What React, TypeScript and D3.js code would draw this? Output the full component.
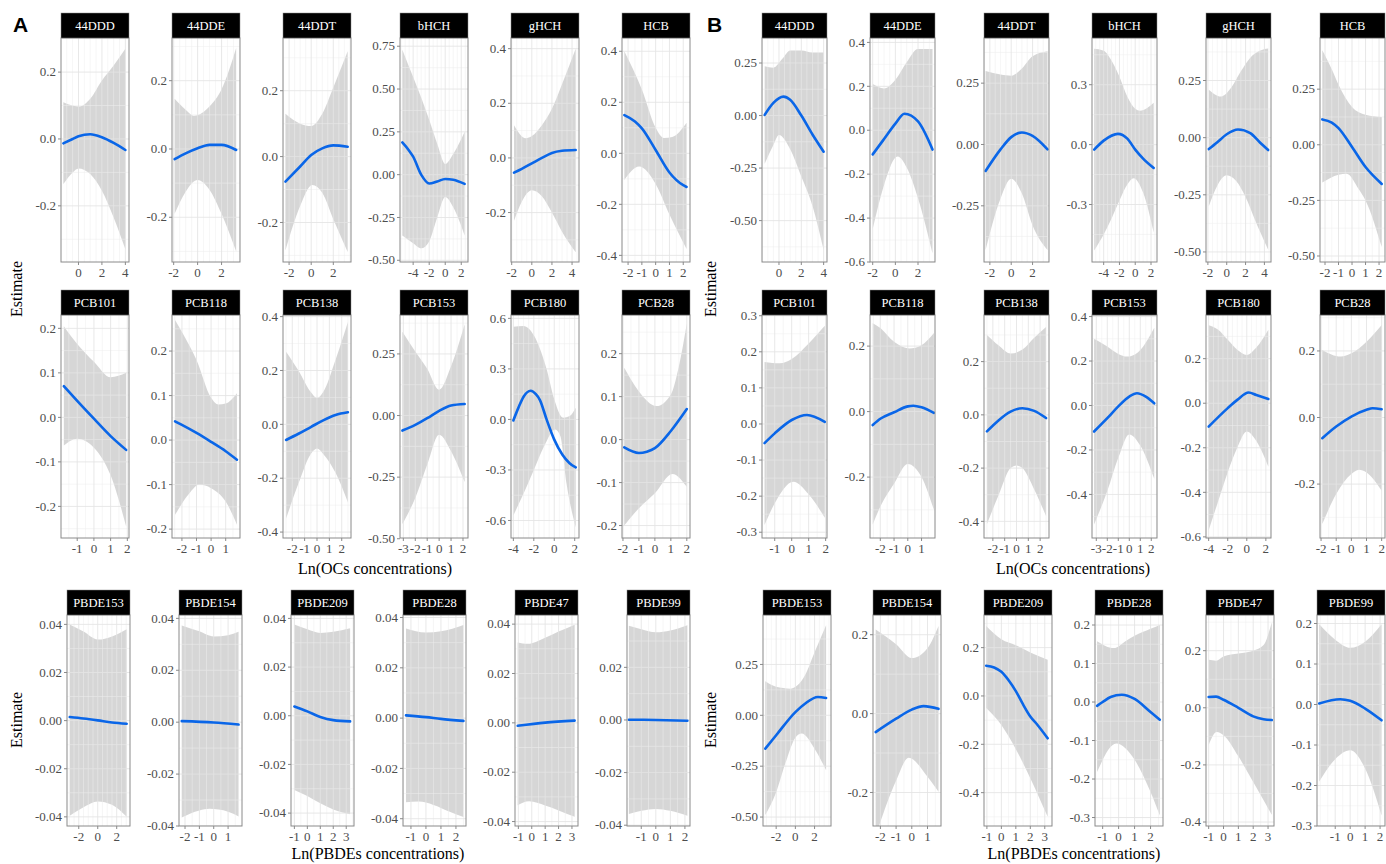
import React from "react";
import * as d3 from "d3";

type P = [number, number];
interface Panel {
  name: string;
  xDom: number[];
  xTicks: number[];
  yDom: number[];
  yTicks: number[];
  fit: P[];
  hi: P[];
  lo: P[];
}

// ---------------- Block A, row 1 (OCs) ----------------
const A_44DDD: Panel = {
  name: "44DDD", xDom: [-1.49, 4.31], xTicks: [0, 2, 4], yDom: [-0.368, 0.302], yTicks: [-0.2, 0, 0.2],
  fit: [[-1.29, -0.013], [-0.5, 0.0], [0, 0.008], [1, 0.014], [2, 0.005], [3, -0.012], [4, -0.033]],
  hi: [[-1.29, 0.11], [-0.5, 0.1], [0.1, 0.097], [1, 0.12], [2, 0.175], [3, 0.22], [4, 0.27]],
  lo: [[-1.29, -0.135], [-0.5, -0.1], [0, -0.088], [1, -0.105], [2, -0.155], [3, -0.235], [4, -0.33]],
};
const A_44DDE: Panel = {
  name: "44DDE", xDom: [-2.14, 3.54], xTicks: [-2, 0, 2], yDom: [-0.331, 0.325], yTicks: [-0.2, 0, 0.2],
  fit: [[-1.92, -0.03], [-1, -0.013], [0, 0.002], [1, 0.012], [2, 0.012], [3.22, -0.003]],
  hi: [[-1.92, 0.147], [-1, 0.115], [-0.28, 0.097], [1, 0.125], [2, 0.175], [3.22, 0.296]],
  lo: [[-1.92, -0.19], [-1, -0.125], [0, -0.091], [1, -0.12], [2, -0.19], [3.22, -0.3]],
};
const A_44DDT: Panel = {
  name: "44DDT", xDom: [-2.55, 3.6], xTicks: [-2, 0, 2], yDom: [-0.32, 0.36], yTicks: [-0.2, 0, 0.2],
  fit: [[-2.33, -0.076], [-1, -0.03], [0, 0.005], [1, 0.025], [2, 0.034], [3.3, 0.03]],
  hi: [[-2.33, 0.13], [-1, 0.1], [0, 0.093], [1, 0.13], [2, 0.21], [3.3, 0.32]],
  lo: [[-2.33, -0.285], [-1, -0.15], [0.1, -0.086], [1, -0.11], [2, -0.19], [3.3, -0.29]],
};
const A_bHCH: Panel = {
  name: "bHCH", xDom: [-5.64, 2.84], xTicks: [-4, -2, 0, 2], yDom: [-0.51, 0.798], yTicks: [-0.5, -0.25, 0, 0.25, 0.5, 0.75],
  fit: [[-5.35, 0.188], [-4.5, 0.14], [-4, 0.105], [-3, 0.0], [-2, -0.052], [-1, -0.04], [0, -0.025], [1, -0.03], [2.42, -0.054]],
  hi: [[-5.35, 0.73], [-4, 0.57], [-3, 0.45], [-2, 0.32], [-1, 0.18], [0, 0.062], [1, 0.12], [2.42, 0.25]],
  lo: [[-5.35, -0.355], [-4, -0.4], [-3, -0.43], [-2, -0.39], [-1, -0.25], [0, -0.13], [1, -0.19], [2.42, -0.355]],
};
const A_gHCH: Panel = {
  name: "gHCH", xDom: [-2.07, 4.69], xTicks: [-2, 0, 2, 4], yDom: [-0.381, 0.439], yTicks: [-0.2, 0, 0.2, 0.4],
  fit: [[-1.77, -0.054], [-1, -0.04], [0, -0.02], [1, 0.0], [2, 0.018], [3, 0.026], [4.36, 0.029]],
  hi: [[-1.77, 0.12], [-0.6, 0.072], [0, 0.08], [1, 0.12], [2, 0.18], [3, 0.27], [4.36, 0.4]],
  lo: [[-1.77, -0.23], [-1, -0.16], [0, -0.118], [1, -0.14], [2, -0.2], [3, -0.27], [4.36, -0.345]],
};
const A_HCB: Panel = {
  name: "HCB", xDom: [-2.44, 2.49], xTicks: [-2, -1, 0, 1, 2], yDom: [-0.426, 0.452], yTicks: [-0.4, -0.2, 0, 0.2, 0.4],
  fit: [[-2.27, 0.15], [-1.5, 0.125], [-1, 0.098], [0, 0.013], [1, -0.075], [2, -0.125], [2.24, -0.132]],
  hi: [[-2.27, 0.4], [-1, 0.25], [0, 0.1], [0.6, 0.06], [1.2, 0.064], [2.24, 0.12]],
  lo: [[-2.27, -0.105], [-1.2, -0.052], [0, -0.12], [1, -0.24], [2.24, -0.375]],
};

// ---------------- Block B, row 1 (OCs) ----------------
const B_44DDD: Panel = {
  name: "44DDD", xDom: [-1.52, 4.3], xTicks: [0, 2, 4], yDom: [-0.697, 0.369], yTicks: [-0.5, -0.25, 0, 0.25],
  fit: [[-1.28, 0.003], [-0.5, 0.06], [0.4, 0.09], [1, 0.075], [2, 0.0], [3, -0.09], [4, -0.172]],
  hi: [[-1.28, 0.235], [-0.5, 0.228], [0.3, 0.27], [1, 0.31], [2, 0.31], [3, 0.3], [4, 0.3]],
  lo: [[-1.28, -0.23], [-0.5, -0.14], [0, -0.093], [1, -0.16], [2, -0.29], [3, -0.43], [4, -0.64]],
};
const B_44DDE: Panel = {
  name: "44DDE", xDom: [-2.24, 3.5], xTicks: [-2, 0, 2], yDom: [-0.6, 0.42], yTicks: [-0.6, -0.4, -0.2, 0, 0.2, 0.4],
  fit: [[-2, -0.11], [-1, -0.04], [0, 0.03], [0.8, 0.075], [2, 0.04], [3.28, -0.088]],
  hi: [[-2, 0.21], [-1, 0.19], [0, 0.23], [1, 0.31], [2, 0.37], [3.28, 0.37]],
  lo: [[-2, -0.45], [-1, -0.25], [0.2, -0.12], [1, -0.17], [2, -0.31], [3.28, -0.56]],
};
const B_44DDT: Panel = {
  name: "44DDT", xDom: [-2.55, 3.54], xTicks: [-2, 0, 2], yDom: [-0.479, 0.434], yTicks: [-0.25, 0, 0.25],
  fit: [[-2.4, -0.108], [-1, -0.02], [0, 0.03], [1, 0.049], [2, 0.035], [3.4, -0.02]],
  hi: [[-2.4, 0.3], [-1, 0.285], [0, 0.28], [1, 0.31], [2, 0.36], [3.4, 0.38]],
  lo: [[-2.4, -0.43], [-1, -0.22], [0, -0.14], [1, -0.2], [2, -0.33], [3.4, -0.43]],
};
const B_bHCH: Panel = {
  name: "bHCH", xDom: [-5.48, 2.76], xTicks: [-4, -2, 0, 2], yDom: [-0.588, 0.534], yTicks: [-0.3, 0, 0.3],
  fit: [[-5.2, -0.025], [-4, 0.02], [-2.2, 0.054], [-1, 0.03], [0, -0.025], [1, -0.07], [2.34, -0.117]],
  hi: [[-5.2, 0.48], [-4, 0.47], [-3, 0.42], [-2, 0.34], [-1, 0.24], [0, 0.18], [0.6, 0.17], [2.34, 0.21]],
  lo: [[-5.2, -0.53], [-4, -0.45], [-3, -0.37], [-2, -0.28], [-1, -0.2], [-0.2, -0.168], [1, -0.24], [2.34, -0.44]],
};
const B_gHCH: Panel = {
  name: "gHCH", xDom: [-2.2, 4.7], xTicks: [-2, 0, 2, 4], yDom: [-0.544, 0.436], yTicks: [-0.5, -0.25, 0, 0.25],
  fit: [[-1.9, -0.05], [-1, -0.02], [0, 0.015], [1.2, 0.036], [2.5, 0.02], [3.5, -0.02], [4.4, -0.054]],
  hi: [[-1.9, 0.21], [-0.6, 0.18], [0.5, 0.22], [1.5, 0.29], [2.5, 0.35], [3.5, 0.38], [4.4, 0.39]],
  lo: [[-1.9, -0.3], [-1, -0.21], [0, -0.165], [1, -0.19], [2, -0.26], [3, -0.36], [4.4, -0.49]],
};
const B_HCB: Panel = {
  name: "HCB", xDom: [-2.37, 2.44], xTicks: [-2, -1, 0, 1, 2], yDom: [-0.527, 0.48], yTicks: [-0.5, -0.25, 0, 0.25],
  fit: [[-2.2, 0.114], [-1.5, 0.1], [-1, 0.075], [0, -0.01], [1, -0.1], [2.2, -0.176]],
  hi: [[-2.2, 0.425], [-1.5, 0.34], [-1, 0.27], [0, 0.17], [1, 0.135], [2.2, 0.125]],
  lo: [[-2.2, -0.17], [-1, -0.135], [-0.4, -0.13], [0.5, -0.2], [1, -0.25], [2.2, -0.46]],
};

// ---------------- Block A, row 2 (PCBs) ----------------
const A_PCB101: Panel = {
  name: "PCB101", xDom: [-1.97, 2.1], xTicks: [-1, 0, 1, 2], yDom: [-0.271, 0.23], yTicks: [-0.2, -0.1, 0, 0.1, 0.2],
  fit: [[-1.8, 0.07], [-1, 0.037], [0, -0.003], [1, -0.042], [1.93, -0.073]],
  hi: [[-1.8, 0.205], [-1, 0.165], [0, 0.125], [1, 0.09], [1.93, 0.1]],
  lo: [[-1.8, -0.063], [-1, -0.048], [0, -0.068], [1, -0.13], [1.93, -0.245]],
};
const A_PCB118: Panel = {
  name: "PCB118", xDom: [-2.68, 1.98], xTicks: [-2, -1, 0, 1], yDom: [-0.22, 0.281], yTicks: [-0.2, -0.1, 0, 0.1, 0.2],
  fit: [[-2.47, 0.042], [-2, 0.034], [-1, 0.016], [0, -0.004], [1, -0.025], [1.77, -0.044]],
  hi: [[-2.47, 0.27], [-2, 0.243], [-1, 0.18], [0, 0.095], [0.5, 0.08], [1, 0.082], [1.77, 0.105]],
  lo: [[-2.47, -0.168], [-1.5, -0.12], [-0.8, -0.1], [0, -0.108], [1, -0.138], [1.77, -0.19]],
};
const A_PCB138: Panel = {
  name: "PCB138", xDom: [-2.75, 2.75], xTicks: [-2, -1, 0, 1, 2], yDom: [-0.422, 0.406], yTicks: [-0.4, -0.2, 0, 0.2, 0.4],
  fit: [[-2.5, -0.058], [-1.5, -0.035], [-0.5, -0.01], [0.5, 0.015], [1.5, 0.035], [2.5, 0.045]],
  hi: [[-2.5, 0.27], [-1.5, 0.2], [-0.5, 0.12], [0, 0.098], [0.5, 0.12], [1.5, 0.24], [2.5, 0.38]],
  lo: [[-2.5, -0.35], [-1.5, -0.22], [-0.5, -0.11], [0, -0.09], [0.5, -0.11], [1.5, -0.18], [2.5, -0.29]],
};
const A_PCB153: Panel = {
  name: "PCB153", xDom: [-3.28, 2.42], xTicks: [-3, -2, -1, 0, 1, 2], yDom: [-0.497, 0.408], yTicks: [-0.5, -0.25, 0, 0.25],
  fit: [[-3.08, -0.061], [-2, -0.038], [-1, -0.011], [0, 0.019], [1, 0.041], [2.14, 0.047]],
  hi: [[-3.08, 0.34], [-2, 0.26], [-1, 0.19], [0, 0.105], [1, 0.2], [2.14, 0.37]],
  lo: [[-3.08, -0.44], [-2, -0.335], [-1, -0.2], [0, -0.078], [1, -0.145], [2.14, -0.27]],
};
const A_PCB180: Panel = {
  name: "PCB180", xDom: [-4.23, 2.42], xTicks: [-4, -2, 0, 2], yDom: [-0.704, 0.62], yTicks: [-0.6, -0.3, 0, 0.3, 0.6],
  fit: [[-4, -0.006], [-3.5, 0.07], [-3, 0.135], [-2.3, 0.17], [-1.8, 0.15], [-1.4, 0.115], [-0.75, 0.0], [0, -0.12], [0.8, -0.21], [1.5, -0.26], [2.1, -0.285]],
  hi: [[-4, 0.55], [-3, 0.555], [-2, 0.5], [-1.4, 0.42], [-0.75, 0.3], [0, 0.12], [0.87, 0.01], [1.5, 0.02], [2.1, 0.07]],
  lo: [[-4, -0.57], [-3, -0.44], [-2, -0.3], [-1, -0.16], [0.1, -0.06], [0.6, -0.1], [1.2, -0.38], [2.1, -0.64]],
};
const A_PCB28: Panel = {
  name: "PCB28", xDom: [-2.06, 2.2], xTicks: [-2, -1, 0, 1, 2], yDom: [-0.229, 0.29], yTicks: [-0.2, -0.1, 0, 0.1, 0.2],
  fit: [[-1.92, -0.018], [-1, -0.031], [-0.5, -0.028], [0, -0.02], [1, 0.02], [2, 0.071]],
  hi: [[-1.92, 0.167], [-1, 0.112], [0.1, 0.078], [1, 0.105], [1.5, 0.17], [2, 0.27]],
  lo: [[-1.92, -0.2], [-1, -0.16], [0, -0.125], [1.1, -0.08], [2, -0.11]],
};

// ---------------- Block B, row 2 (PCBs) ----------------
const B_PCB101: Panel = {
  name: "PCB101", xDom: [-1.75, 2.08], xTicks: [-1, 0, 1, 2], yDom: [-0.316, 0.302], yTicks: [-0.3, -0.2, -0.1, 0, 0.1, 0.2, 0.3],
  fit: [[-1.6, -0.053], [-1, -0.026], [0, 0.011], [0.9, 0.025], [1.95, 0.006]],
  hi: [[-1.6, 0.172], [-0.7, 0.168], [0, 0.18], [1, 0.223], [1.95, 0.272]],
  lo: [[-1.6, -0.28], [-1, -0.22], [0.1, -0.16], [1, -0.195], [1.95, -0.26]],
};
const B_PCB118: Panel = {
  name: "PCB118", xDom: [-2.75, 1.98], xTicks: [-2, -1, 0, 1], yDom: [-0.386, 0.295], yTicks: [-0.2, 0, 0.2],
  fit: [[-2.55, -0.041], [-2, -0.022], [-1, -0.002], [0, 0.016], [0.4, 0.018], [1, 0.013], [1.9, -0.004]],
  hi: [[-2.55, 0.27], [-2, 0.255], [-1, 0.213], [0.1, 0.193], [1, 0.203], [1.9, 0.24]],
  lo: [[-2.55, -0.345], [-2, -0.29], [-1, -0.22], [0, -0.16], [1, -0.2], [1.9, -0.3]],
};
const B_PCB138: Panel = {
  name: "PCB138", xDom: [-2.75, 2.75], xTicks: [-2, -1, 0, 1, 2], yDom: [-0.4625, 0.375], yTicks: [-0.4, -0.2, 0, 0.2],
  fit: [[-2.5, -0.062], [-1.5, -0.02], [-0.5, 0.012], [0.5, 0.025], [1.5, 0.015], [2.5, -0.012]],
  hi: [[-2.5, 0.3], [-1.5, 0.26], [-0.5, 0.23], [0.5, 0.245], [1.5, 0.29], [2.5, 0.33]],
  lo: [[-2.5, -0.41], [-1.5, -0.3], [-0.5, -0.2], [0, -0.19], [0.5, -0.2], [1.5, -0.28], [2.5, -0.38]],
};
const B_PCB153: Panel = {
  name: "PCB153", xDom: [-3.39, 2.52], xTicks: [-3, -2, -1, 0, 1, 2], yDom: [-0.596, 0.407], yTicks: [-0.4, -0.2, 0, 0.2, 0.4],
  fit: [[-3.2, -0.117], [-2, -0.057], [-1, -0.004], [0, 0.04], [0.7, 0.055], [1.5, 0.04], [2.27, 0.01]],
  hi: [[-3.2, 0.3], [-2, 0.265], [-1, 0.232], [-0.2, 0.22], [0.8, 0.24], [2.27, 0.35]],
  lo: [[-3.2, -0.535], [-2, -0.385], [-1, -0.235], [0, -0.13], [1, -0.18], [2.27, -0.33]],
};
const B_PCB180: Panel = {
  name: "PCB180", xDom: [-4.28, 2.54], xTicks: [-4, -2, 0, 2], yDom: [-0.605, 0.396], yTicks: [-0.6, -0.4, -0.2, 0, 0.2],
  fit: [[-4, -0.105], [-2, -0.022], [-1, 0.015], [0.2, 0.048], [1, 0.037], [2.26, 0.019]],
  hi: [[-4, 0.35], [-3, 0.33], [-2, 0.285], [-1, 0.24], [0, 0.217], [1, 0.25], [2.26, 0.33]],
  lo: [[-4, -0.57], [-3, -0.44], [-2, -0.31], [-1, -0.2], [0, -0.127], [1, -0.17], [2.26, -0.285]],
};
const B_PCB28: Panel = {
  name: "PCB28", xDom: [-2.07, 2.22], xTicks: [-2, -1, 0, 1, 2], yDom: [-0.362, 0.308], yTicks: [-0.2, 0, 0.2],
  fit: [[-1.92, -0.062], [-1, -0.027], [0, 0.003], [1, 0.023], [1.4, 0.028], [2, 0.025]],
  hi: [[-1.92, 0.203], [-0.7, 0.183], [0, 0.193], [1, 0.228], [2, 0.278]],
  lo: [[-1.92, -0.32], [-1, -0.23], [0, -0.17], [0.5, -0.157], [1, -0.165], [2, -0.22]],
};

// ---------------- Block A, row 3 (PBDEs) ----------------
const A_PBDE153: Panel = {
  name: "PBDE153", xDom: [-3.24, 3.4], xTicks: [-2, 0, 2], yDom: [-0.0438, 0.0439], yTicks: [-0.04, -0.02, 0, 0.02, 0.04],
  fit: [[-2.95, 0.0015], [-1.5, 0.0009], [0, 0.0001], [1.5, -0.0008], [3.05, -0.0013]],
  hi: [[-2.95, 0.04], [-1.5, 0.037], [0, 0.0337], [1.5, 0.035], [3.05, 0.038]],
  lo: [[-2.95, -0.0395], [-1.5, -0.036], [0, -0.0336], [1.5, -0.035], [3.05, -0.04]],
};
const A_PBDE154: Panel = {
  name: "PBDE154", xDom: [-2.42, 1.97], xTicks: [-2, -1, 0, 1], yDom: [-0.04, 0.0413], yTicks: [-0.04, -0.02, 0, 0.02, 0.04],
  fit: [[-2.23, 0.0004], [0, -0.0001], [1.73, -0.0009]],
  hi: [[-2.23, 0.0373], [-1, 0.035], [0, 0.033], [1, 0.0335], [1.73, 0.0348]],
  lo: [[-2.23, -0.0367], [-1, -0.034], [-0.3, -0.0334], [1, -0.0345], [1.73, -0.0363]],
};
const A_PBDE209: Panel = {
  name: "PBDE209", xDom: [-1.26, 3.6], xTicks: [-1, 0, 1, 2, 3], yDom: [-0.0453, 0.0414], yTicks: [-0.04, -0.02, 0, 0.02, 0.04],
  fit: [[-1, 0.0038], [0, 0.0018], [1, -0.0005], [2, -0.0018], [3.3, -0.0023]],
  hi: [[-1, 0.0375], [0, 0.0355], [1, 0.034], [2, 0.0345], [3.3, 0.036]],
  lo: [[-1, -0.0305], [0, -0.033], [1, -0.036], [2, -0.0385], [3.3, -0.0405]],
};
const A_PBDE28: Panel = {
  name: "PBDE28", xDom: [-1.53, 2.67], xTicks: [-1, 0, 1, 2], yDom: [-0.0429, 0.041], yTicks: [-0.04, -0.02, 0, 0.02, 0.04],
  fit: [[-1.33, 0.0011], [0, 0.0004], [1, -0.0003], [2.5, -0.0011]],
  hi: [[-1.33, 0.0356], [0, 0.034], [1, 0.0345], [2.5, 0.037]],
  lo: [[-1.33, -0.0335], [-0.5, -0.0332], [0.5, -0.0345], [1.5, -0.037], [2.5, -0.0393]],
};
const A_PBDE47: Panel = {
  name: "PBDE47", xDom: [-1.25, 3.45], xTicks: [-1, 0, 1, 2, 3], yDom: [-0.0418, 0.0437], yTicks: [-0.04, -0.02, 0, 0.02, 0.04],
  fit: [[-1.05, -0.0012], [1, 0.0001], [3.2, 0.0009]],
  hi: [[-1.05, 0.0326], [-0.3, 0.032], [1, 0.0345], [2, 0.037], [3.2, 0.0398]],
  lo: [[-1.05, -0.0334], [-0.2, -0.0318], [1, -0.0335], [2, -0.0355], [3.2, -0.0381]],
};
const A_PBDE99: Panel = {
  name: "PBDE99", xDom: [-1.98, 2.35], xTicks: [-1, 0, 1, 2], yDom: [-0.0403, 0.0399], yTicks: [-0.04, -0.02, 0, 0.02],
  fit: [[-1.85, 0.0001], [0, 0.0], [2.17, -0.0003]],
  hi: [[-1.85, 0.0358], [-1, 0.0345], [0, 0.0333], [1, 0.034], [2.17, 0.036]],
  lo: [[-1.85, -0.0357], [-1, -0.0345], [0, -0.0338], [1, -0.0345], [2.17, -0.0364]],
};

// ---------------- Block B, row 3 (PBDEs) ----------------
const B_PBDE153: Panel = {
  name: "PBDE153", xDom: [-3.37, 3.71], xTicks: [-2, 0, 2], yDom: [-0.544, 0.493], yTicks: [-0.5, -0.25, 0, 0.25],
  fit: [[-3.13, -0.164], [-2, -0.098], [0, 0.016], [1, 0.057], [2.35, 0.09], [3.2, 0.085]],
  hi: [[-3.13, 0.167], [-2, 0.14], [-0.55, 0.131], [1, 0.197], [2, 0.31], [3.2, 0.443]],
  lo: [[-3.13, -0.49], [-2, -0.378], [-1, -0.23], [0, -0.11], [0.65, -0.09], [2, -0.164], [3.2, -0.27]],
};
const B_PBDE154: Panel = {
  name: "PBDE154", xDom: [-2.47, 1.86], xTicks: [-2, -1, 0, 1], yDom: [-0.285, 0.25], yTicks: [-0.2, 0, 0.2],
  fit: [[-2.3, -0.047], [-1, -0.013], [0, 0.01], [0.75, 0.019], [1.7, 0.012]],
  hi: [[-2.3, 0.213], [-1, 0.176], [0, 0.141], [1, 0.166], [1.7, 0.222]],
  lo: [[-2.3, -0.31], [-1, -0.17], [-0.2, -0.112], [1, -0.16], [1.7, -0.198]],
};
const B_PBDE209: Panel = {
  name: "PBDE209", xDom: [-1.2, 3.5], xTicks: [-1, 0, 1, 2, 3], yDom: [-0.538, 0.335], yTicks: [-0.4, -0.2, 0, 0.2],
  fit: [[-1.05, 0.125], [-0.5, 0.118], [0, 0.1], [0.5, 0.065], [1, 0.02], [1.5, -0.035], [2, -0.085], [2.5, -0.12], [3.2, -0.175]],
  hi: [[-1.05, 0.29], [0, 0.235], [1, 0.21], [2, 0.18], [3.2, 0.15]],
  lo: [[-1.05, -0.05], [0, -0.12], [1, -0.22], [2, -0.34], [3.2, -0.5]],
};
const B_PBDE28: Panel = {
  name: "PBDE28", xDom: [-1.48, 2.78], xTicks: [-1, 0, 1, 2], yDom: [-0.322, 0.226], yTicks: [-0.3, -0.2, -0.1, 0, 0.1, 0.2],
  fit: [[-1.35, -0.01], [-1, 0.0], [-0.5, 0.013], [0.2, 0.019], [1, 0.008], [2, -0.026], [2.58, -0.046]],
  hi: [[-1.35, 0.158], [-0.3, 0.14], [0.5, 0.16], [1, 0.172], [2, 0.19], [2.58, 0.2]],
  lo: [[-1.35, -0.182], [-0.15, -0.108], [1, -0.15], [2, -0.234], [2.58, -0.295]],
};
const B_PBDE47: Panel = {
  name: "PBDE47", xDom: [-1.18, 3.4], xTicks: [-1, 0, 1, 2, 3], yDom: [-0.414, 0.325], yTicks: [-0.4, -0.2, 0, 0.2],
  fit: [[-1, 0.038], [-0.5, 0.039], [0, 0.028], [1, 0.0], [2, -0.03], [2.7, -0.04], [3.25, -0.043]],
  hi: [[-1, 0.168], [-0.5, 0.165], [0, 0.18], [1, 0.19], [2, 0.2], [2.7, 0.22], [3.25, 0.3]],
  lo: [[-1, -0.13], [-0.45, -0.085], [0, -0.096], [1, -0.17], [2, -0.26], [3.25, -0.375]],
};
const B_PBDE99: Panel = {
  name: "PBDE99", xDom: [-2.22, 2.33], xTicks: [-1, 0, 1, 2], yDom: [-0.3, 0.221], yTicks: [-0.3, -0.2, -0.1, 0, 0.1, 0.2],
  fit: [[-2.07, 0.0025], [-0.67, 0.013], [0, 0.009], [1, -0.01], [2.1, -0.039]],
  hi: [[-2.07, 0.198], [-1, 0.16], [0, 0.14], [1, 0.155], [2.1, 0.198]],
  lo: [[-2.07, -0.19], [-1, -0.135], [0, -0.113], [1, -0.158], [2.1, -0.274]],
};

const ROW_A1 = [A_44DDD, A_44DDE, A_44DDT, A_bHCH, A_gHCH, A_HCB];
const ROW_B1 = [B_44DDD, B_44DDE, B_44DDT, B_bHCH, B_gHCH, B_HCB];
const ROW_A2 = [A_PCB101, A_PCB118, A_PCB138, A_PCB153, A_PCB180, A_PCB28];
const ROW_B2 = [B_PCB101, B_PCB118, B_PCB138, B_PCB153, B_PCB180, B_PCB28];
const ROW_A3 = [A_PBDE153, A_PBDE154, A_PBDE209, A_PBDE28, A_PBDE47, A_PBDE99];
const ROW_B3 = [B_PBDE153, B_PBDE154, B_PBDE209, B_PBDE28, B_PBDE47, B_PBDE99];

const X_TITLE_OC = "Ln(OCs concentrations)";
const X_TITLE_PBDE = "Ln(PBDEs concentrations)";
const Y_TITLE = "Estimate";

// ---------------- layout ----------------
const LAYOUT = [
  { panels: ROW_A1, lefts: [61, 172, 283, 400, 511, 622], w: 68, top: 38, h: 224 },
  { panels: ROW_B1, lefts: [762, 870, 984, 1092, 1206, 1320], w: 65, top: 38, h: 224 },
  { panels: ROW_A2, lefts: [61, 172, 283, 400, 511, 622], w: 68, top: 315, h: 223 },
  { panels: ROW_B2, lefts: [762, 870, 984, 1092, 1206, 1320], w: 65, top: 315, h: 223 },
  { panels: ROW_A3, lefts: [67, 179, 291, 403, 515, 627], w: 63, top: 615, h: 211 },
  { panels: ROW_B3, lefts: [763, 873, 984, 1095, 1206, 1317], w: 68, top: 615, h: 211 },
];

const SERIF = '"Liberation Serif", Tinos, "Times New Roman", "Nimbus Roman", "DejaVu Serif", serif';
const SANS = '"Liberation Sans", Arial, sans-serif';
const STRIP_H = 25;

function decimals(v: number[]) {
  let m = 0;
  for (const t of v) {
    const s = String(Math.abs(t));
    const i = s.indexOf(".");
    if (i >= 0) m = Math.max(m, s.length - i - 1);
  }
  return m;
}

// y minor grid: midpoints between major breaks (ggplot style)
function yMinorBreaks(ticks: number[], dom: number[]) {
  if (ticks.length < 2) return [];
  const step = ticks[1] - ticks[0];
  const out: number[] = [];
  for (let k = -1; k < ticks.length; k++) {
    const v = ticks[0] + step * (k + 0.5);
    if (v > dom[0] && v < dom[1]) out.push(v);
  }
  return out;
}

// x fine grid every half unit
function xFineBreaks(dom: number[]) {
  const out: number[] = [];
  for (let v = Math.ceil(dom[0] * 2) / 2; v <= dom[1]; v += 0.5) out.push(v);
  return out;
}

function PanelView({ p, left, top, w, h, id }: { p: Panel; left: number; top: number; w: number; h: number; id: string }) {
  const x = d3.scaleLinear().domain(p.xDom).range([left, left + w]);
  const y = d3.scaleLinear().domain(p.yDom).range([top + h, top]);
  const line = d3.line<P>().x((d) => x(d[0])).y((d) => y(d[1])).curve(d3.curveMonotoneX);
  const up = line(p.hi) || "";
  const dn = line([...p.lo].reverse()) || "";
  const ribbon = up + "L" + dn.slice(1) + "Z";
  const fitPath = line(p.fit) || "";
  const yd = decimals(p.yTicks);
  const xFine = xFineBreaks(p.xDom).filter((v) => !p.xTicks.includes(v));
  const yMinor = yMinorBreaks(p.yTicks, p.yDom);
  const grey = "#4d4d4d";
  return (
    <g>
      <defs>
        <clipPath id={id}>
          <rect x={left} y={top} width={w} height={h} />
        </clipPath>
      </defs>
      <rect x={left} y={top} width={w} height={h} fill="#ffffff" />
      <g clipPath={`url(#${id})`}>
        <path d={ribbon} fill="#999999" fillOpacity={0.4} stroke="none" />
        {xFine.map((v) => (
          <line key={"xm" + v} x1={x(v)} x2={x(v)} y1={top} y2={top + h} stroke="#eeeeee" strokeOpacity={0.75} strokeWidth={0.7} />
        ))}
        {yMinor.map((v) => (
          <line key={"ym" + v} x1={left} x2={left + w} y1={y(v)} y2={y(v)} stroke="#eeeeee" strokeOpacity={0.75} strokeWidth={0.7} />
        ))}
        {p.xTicks.map((v) => (
          <line key={"xg" + v} x1={x(v)} x2={x(v)} y1={top} y2={top + h} stroke="#e4e4e4" strokeOpacity={0.85} strokeWidth={1} />
        ))}
        {p.yTicks.map((v) => (
          <line key={"yg" + v} x1={left} x2={left + w} y1={y(v)} y2={y(v)} stroke="#e4e4e4" strokeOpacity={0.85} strokeWidth={1} />
        ))}
        <path d={fitPath} fill="none" stroke="#0a66e8" strokeWidth={2.6} strokeLinecap="round" />
      </g>
      <rect x={left} y={top} width={w} height={h} fill="none" stroke="#8a8a8a" strokeWidth={1} />
      <rect x={left} y={top - STRIP_H} width={w} height={STRIP_H} fill="#000000" stroke="#8a8a8a" strokeWidth={0.5} />
      <text x={left + w / 2} y={top - STRIP_H / 2 + 4.5} textAnchor="middle" fill="#ffffff" style={{ fontFamily: SERIF, fontSize: "12.5px" }}>
        {p.name}
      </text>
      {p.yTicks.map((v) => (
        <g key={"yt" + v}>
          <line x1={left - 3} x2={left} y1={y(v)} y2={y(v)} stroke="#8a8a8a" strokeWidth={1} />
          <text x={left - 5} y={y(v) + 4.2} textAnchor="end" fill={grey} style={{ fontFamily: SERIF, fontSize: "13px" }}>
            {v.toFixed(yd)}
          </text>
        </g>
      ))}
      {p.xTicks.map((v) => (
        <g key={"xt" + v}>
          <line x1={x(v)} x2={x(v)} y1={top + h} y2={top + h + 3} stroke="#8a8a8a" strokeWidth={1} />
          <text x={x(v)} y={top + h + 15} textAnchor="middle" fill={grey} style={{ fontFamily: SERIF, fontSize: "13px" }}>
            {String(v)}
          </text>
        </g>
      ))}
    </g>
  );
}

export default function App() {
  const title = { fontFamily: SERIF, fontSize: "16px" };
  return (
    <svg width={1386} height={864} style={{ position: "absolute", left: 0, top: 0, background: "#ffffff", fontFamily: SERIF }}>
      <rect x={0} y={0} width={1386} height={864} fill="#ffffff" />
      {LAYOUT.map((row, ri) =>
        row.panels.map((p, pi) => (
          <PanelView key={ri + "-" + pi} id={`clip-${ri}-${pi}`} p={p} left={row.lefts[pi]} top={row.top} w={row.w} h={row.h} />
        ))
      )}
      <text x={13} y={32} style={{ fontFamily: SANS, fontWeight: "bold", fontSize: "21px" }} fill="#000">A</text>
      <text x={707} y={32} style={{ fontFamily: SANS, fontWeight: "bold", fontSize: "21px" }} fill="#000">B</text>
      <text x={375} y={574} textAnchor="middle" style={title} fill="#000">{X_TITLE_OC}</text>
      <text x={1073} y={574} textAnchor="middle" style={title} fill="#000">{X_TITLE_OC}</text>
      <text x={378} y={859} textAnchor="middle" style={title} fill="#000">{X_TITLE_PBDE}</text>
      <text x={1074} y={859} textAnchor="middle" style={title} fill="#000">{X_TITLE_PBDE}</text>
      <text transform="translate(22,289) rotate(-90)" textAnchor="middle" style={title} fill="#000">{Y_TITLE}</text>
      <text transform="translate(716,289) rotate(-90)" textAnchor="middle" style={title} fill="#000">{Y_TITLE}</text>
      <text transform="translate(22,720) rotate(-90)" textAnchor="middle" style={title} fill="#000">{Y_TITLE}</text>
      <text transform="translate(716,720) rotate(-90)" textAnchor="middle" style={title} fill="#000">{Y_TITLE}</text>
    </svg>
  );
}
